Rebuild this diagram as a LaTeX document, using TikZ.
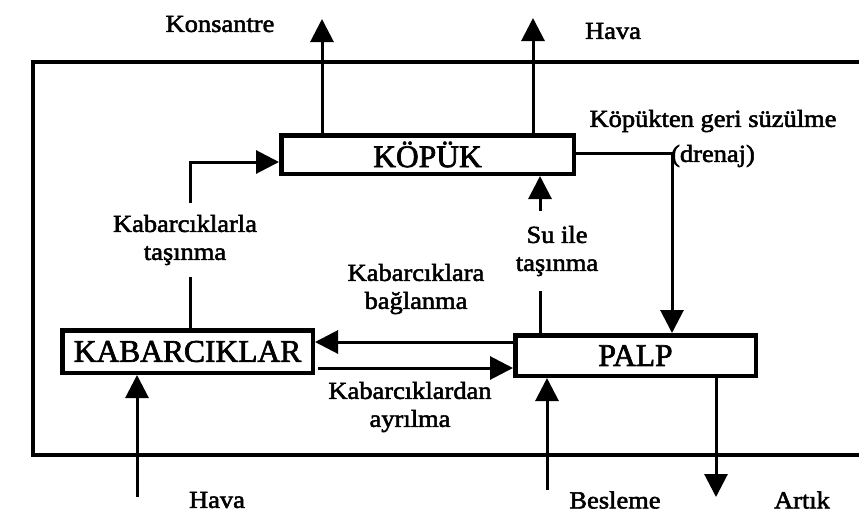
\documentclass[tikz,border=0pt]{standalone}
\usepackage{fontspec}
\setmainfont{Liberation Serif}
\newfontfamily\lblfont[FakeStretch=1.08,FakeBold=2.2]{Liberation Serif}
\newfontfamily\boxfont[FakeBold=2.2]{Liberation Serif}
\usetikzlibrary{arrows.meta}
\begin{document}
\begin{tikzpicture}[x=1pt,y=-1pt,
  lbl/.style={font=\lblfont\fontsize{24.5}{28}\selectfont, align=center, inner sep=0pt},
  gaplbl/.style={lbl, fill=white, inner xsep=3pt},
  procbox/.style={draw, line width=4.5pt, inner sep=0pt, fill=white,
    font=\boxfont\fontsize{31.5}{34}\selectfont},
  arr/.style={line width=3pt, -{Triangle[length=23pt,width=23pt]}},
  plain/.style={line width=3pt}]
\useasboundingbox (0,0) rectangle (859,512);
% frame
\draw[line width=4.5pt] (859,62) -- (33,62) -- (33,455) -- (859,455);
% boxes
\node[procbox, minimum width=292.5pt, minimum height=38.5pt] (kopuk) at (427.5,154.5) {KÖPÜK};
\node[procbox, minimum width=250.5pt, minimum height=42.5pt] (kab) at (187.5,351.5) {KABARCIKLAR};
\node[procbox, minimum width=240.5pt, minimum height=40.5pt] (palp) at (635.5,355.5) {PALP};
% free ends
\coordinate (konsEnd) at (322,19);
\coordinate (havaTopEnd) at (533,18);
\coordinate (havaBotStart) at (137,497);
\coordinate (beslStart) at (547,490);
\coordinate (artikEnd) at (716,497);
% connectors
\draw[arr] (kopuk.north -| konsEnd) -- (konsEnd);
\draw[arr] (kopuk.north -| havaTopEnd) -- (havaTopEnd);
\draw[arr] (kab.north -| 190,0) |- (kopuk.west |- 0,162);
\draw[arr] (palp.north -| 540,0) -- (kopuk.south -| 540,0);
\draw[arr] (kopuk.east |- 0,153) -| (palp.north -| 672,0);
\draw[arr] (palp.west |- 0,342) -- (kab.east |- 0,342);
\coordinate (kabOut) at ([xshift=3pt]kab.east |- 0,368);
\draw[arr] (kabOut) -- (palp.west |- 0,368);
\draw[arr] (havaBotStart) -- (kab.south -| havaBotStart);
\draw[arr] (beslStart) -- (palp.south -| beslStart);
\draw[arr] (palp.south -| artikEnd) -- (artikEnd);
% labels
\node[lbl] (tKons) at (220,24) {Konsantre};
\node[lbl] (tHavaTop) at (613,31) {Hava};
\node[lbl] (tDren) at (713,121) {Köpükten geri süzülme};
\node[lbl] (tDren2) at (713,156) {(drenaj)};
\node[gaplbl, inner ysep=12pt] (tKt) at (185,240) {Kabarcıklarla\\taşınma};
\node[gaplbl, inner ysep=15pt] (tSu) at (557,251) {Su ile\\taşınma};
\node[lbl] (tBag) at (416,289) {Kabarcıklara\\bağlanma};
\node[lbl] (tAyr) at (410,407) {Kabarcıklardan\\ayrılma};
\node[lbl] (tHavaBot) at (217,500) {Hava};
\node[lbl] (tBesl) at (615,500) {Besleme};
\node[lbl] (tArtik) at (802,500) {Artık};
\end{tikzpicture}
\end{document}
